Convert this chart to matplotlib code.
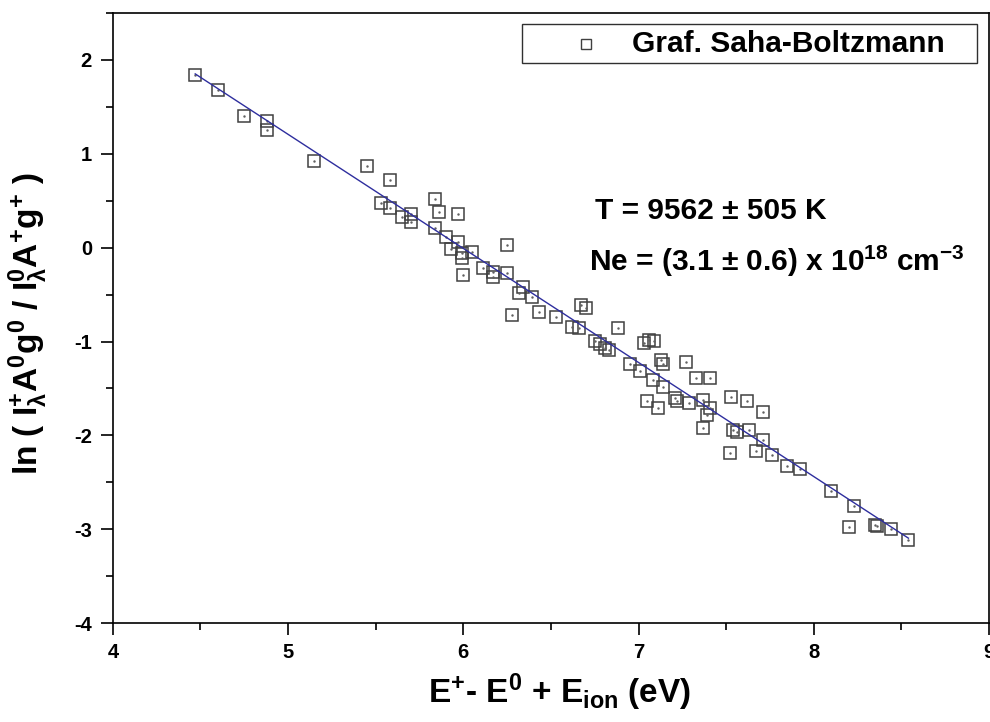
import matplotlib
matplotlib.use('Agg')
import matplotlib.pyplot as plt
from matplotlib.patches import Rectangle
from matplotlib.ticker import MultipleLocator
import numpy as np

plt.rcParams['font.family'] = ['Liberation Sans', 'DejaVu Sans']
plt.rcParams['font.weight'] = 'bold'
plt.rcParams['axes.unicode_minus'] = False
plt.rcParams['mathtext.fontset'] = 'custom'
plt.rcParams['mathtext.rm'] = 'Liberation Sans:bold'
plt.rcParams['mathtext.it'] = 'Liberation Sans:bold'
plt.rcParams['mathtext.bf'] = 'Liberation Sans:bold'
plt.rcParams['mathtext.sf'] = 'Liberation Sans:bold'

# energies (eV) and ln(...) values
energy = [4.47, 4.60, 4.75, 4.88, 4.88, 5.15, 5.45, 5.58, 5.53, 5.58,
          5.65, 5.70, 5.70, 5.84, 5.86, 5.97, 5.84, 5.90, 5.97, 5.93,
          5.99, 5.99, 6.05, 6.25, 6.00, 6.11, 6.17, 6.17, 6.25, 6.34,
          6.32, 6.39, 6.28, 6.43, 6.53, 6.62, 6.67, 6.70, 6.66, 6.88,
          6.75, 6.78, 6.81, 6.83, 6.95, 7.01, 7.06, 7.03, 7.09, 7.14,
          7.13, 7.27, 7.08, 7.14, 7.33, 7.41, 7.22, 7.21, 7.29, 7.37,
          7.05, 7.11, 7.39, 7.41, 7.37, 7.53, 7.62, 7.54, 7.56, 7.63,
          7.71, 7.52, 7.67, 7.71, 7.76, 7.85, 7.92, 8.10, 8.23, 8.20,
          8.35, 8.36, 8.44, 8.54]
ln_ratio = [1.84, 1.68, 1.40, 1.35, 1.25, 0.92, 0.87, 0.72, 0.48, 0.42,
            0.33, 0.36, 0.27, 0.52, 0.38, 0.36, 0.21, 0.11, 0.06, -0.01,
            -0.06, -0.11, -0.05, 0.03, -0.29, -0.22, -0.26, -0.31, -0.27, -0.42,
            -0.48, -0.53, -0.72, -0.69, -0.74, -0.85, -0.61, -0.64, -0.86, -0.86,
            -0.99, -1.03, -1.07, -1.09, -1.24, -1.31, -0.98, -1.02, -0.99, -1.24,
            -1.20, -1.22, -1.41, -1.49, -1.39, -1.39, -1.63, -1.60, -1.66, -1.62,
            -1.63, -1.71, -1.78, -1.71, -1.92, -1.59, -1.63, -1.94, -1.96, -1.94,
            -1.75, -2.19, -2.17, -2.05, -2.21, -2.33, -2.36, -2.59, -2.75, -2.98,
            -2.95, -2.97, -3.00, -3.12]

legend_label = 'Graf. Saha-Boltzmann'
temp_text = 'T = 9562 ± 505 K'
dens_text = r'Ne = (3.1 ± 0.6) x 10$^{18}$ cm$^{-3}$'

x = np.array(energy)
y = np.array(ln_ratio)
slope, icpt = np.polyfit(x, y, 1)
xf = np.array([x.min(), x.max()])

fig = plt.figure(figsize=(9.9, 7.22), dpi=100)
ax = fig.add_axes([0.114, 0.137, 0.885, 0.845])

ax.plot(x, y, ls='none', marker='s', ms=9.3, mfc='none', mec='#404040', mew=1.1)
ax.plot(x, y, ls='none', marker='.', ms=1.5, color='#606060')
ax.plot(xf, slope * xf + icpt, color='#2e2e9e', lw=1)

ax.set_xlim(4, 9)
ax.set_ylim(-4, 2.5)
ax.xaxis.set_major_locator(MultipleLocator(1))
ax.xaxis.set_minor_locator(MultipleLocator(0.5))
ax.yaxis.set_major_locator(MultipleLocator(1))
ax.yaxis.set_minor_locator(MultipleLocator(0.5))
ax.tick_params(which='major', direction='out', length=8.6, width=1.2, labelsize=14.5, top=False, right=False)
ax.tick_params(which='minor', direction='out', length=5, width=1.2, top=False, right=False)
ax.tick_params(axis='y', pad=6.5)
ax.tick_params(axis='x', pad=5.5)
for s in ax.spines.values():
    s.set_linewidth(1.2)

ax.set_xlabel(r'E$^{+}$- E$^{0}$ + E$_{\mathrm{ion}}$ (eV)', fontsize=24, fontweight='bold')
ax.set_ylabel(r'ln ( I$_{\lambda}^{+}$A$^{0}$g$^{0}$ / I$_{\lambda}^{0}$A$^{+}$g$^{+}$ )',
              fontsize=24, fontweight='bold')
ax.xaxis.set_label_coords(0.51, -0.08)
ax.yaxis.set_label_coords(-0.072, 0.49)

ax.text(6.75, 0.306, temp_text, fontsize=21.5, fontweight='bold')
ax.text(6.72, -0.25, dens_text, fontsize=21.5, fontweight='bold')

# legend box drawn by hand to match the original spacing
ax.add_patch(Rectangle((0.467, 0.918), 0.519, 0.064, transform=ax.transAxes,
                       fill=False, ec='#303030', lw=1))
ax.plot([0.540], [0.950], transform=ax.transAxes, marker='s', ms=7, mfc='none',
        mec='#404040', mew=1, ls='none')
ax.text(0.592, 0.950, legend_label, transform=ax.transAxes, fontsize=21.5,
        fontweight='bold', va='center')

plt.savefig('out.png', dpi=100)
